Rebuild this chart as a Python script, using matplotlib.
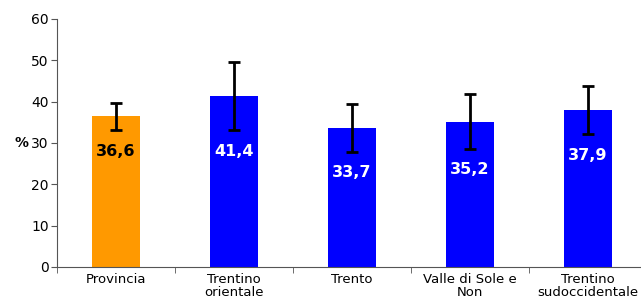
import matplotlib.pyplot as plt
import numpy as np

categories = ['Provincia', 'Trentino\norientale', 'Trento', 'Valle di Sole e\nNon', 'Trentino\nsudoccidentale']
values = [36.6, 41.4, 33.7, 35.2, 37.9]
err_low = [33.1, 33.1, 27.9, 28.6, 32.1]
err_high = [39.7, 49.7, 39.4, 41.9, 43.9]
labels = ['36,6', '41,4', '33,7', '35,2', '37,9']
colors = ['#FF9900', '#0000FF', '#0000FF', '#0000FF', '#0000FF']
label_colors = ['black', 'white', 'white', 'white', 'white']

fig = plt.figure(figsize=(6.41, 3.02), dpi=100)
ax = fig.add_axes([57 / 641, 35 / 302, 590 / 641, 248 / 302])

x = np.arange(len(categories))
vals = np.array(values)
yerr = [vals - np.array(err_low), np.array(err_high) - vals]
ax.bar(x, values, width=0.41, color=colors, zorder=2)
ax.errorbar(x, values, yerr=yerr, fmt='none', ecolor='black', elinewidth=2,
            capsize=4, capthick=2, zorder=3)

for xi, lo, lab, c in zip(x, err_low, labels, label_colors):
    ax.annotate(lab, (xi, lo), xytext=(0, -15), textcoords='offset points',
                ha='center', va='center', fontsize=11.5, fontweight='bold', color=c)

ax.set_xlim(-0.5, len(categories) - 0.5)
ax.set_ylim(0, 60)
ax.set_yticks(range(0, 61, 10))
ax.set_xticks(x)
ax.set_xticklabels(categories, fontsize=9.5, linespacing=1.0)
ax.set_xticks(np.arange(-0.5, len(categories), 1), minor=True)
ax.tick_params(axis='x', which='major', length=0, pad=4)
ax.tick_params(axis='x', which='minor', length=4, color='#555555')
ax.tick_params(axis='y', labelsize=10, length=4, color='#555555', pad=2)
ax.set_ylabel('%', rotation=0, fontsize=10, fontweight='bold', va='center')
ax.yaxis.set_label_coords(-0.06, 0.5)

for s in ['top', 'right']:
    ax.spines[s].set_visible(False)
for s in ['left', 'bottom']:
    ax.spines[s].set_color('#555555')

fig.savefig('out.png', dpi=100)
